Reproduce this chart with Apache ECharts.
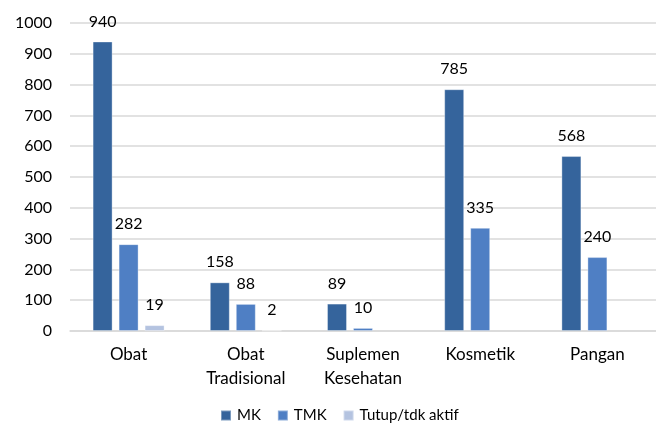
<!DOCTYPE html>
<html>
<head>
<meta charset="utf-8">
<script src="https://cdn.jsdelivr.net/npm/echarts@6/dist/echarts.min.js"></script>
<style>
  html, body { margin: 0; padding: 0; background: #fff; }
  #chart { width: 656px; height: 425px; }
</style>
</head>
<body>
<div id="chart"></div>
<script>
// data
const categories = ['Obat', 'Obat\nTradisional', 'Suplemen\nKesehatan', 'Kosmetik', 'Pangan']
const mk = [940, 158, 89, 785, 568]
const tmk = [282, 88, 10, 335, 240]
const tutup = [19, 2, null, null, null] // no bar drawn for the last three
const yTicks = { min: 0, max: 1000, interval: 100 }

const chart = echarts.init(document.getElementById('chart'))
const font = 'Lato, "Open Sans", sans-serif'

function barSeries(name, data, color) {
  return {
    name: name,
    type: 'bar',
    data: data,
    barWidth: 20,
    barGap: '30%',
    itemStyle: {
      color: color,
      borderColor: 'rgba(255,255,255,0.35)',
      borderWidth: 1
    },
    label: {
      show: true,
      position: 'top',
      distance: 12,
      color: '#000',
      fontSize: 16,
      fontFamily: font
    }
  }
}

const option = {
  animation: false,
  textStyle: { fontFamily: font },
  grid: { left: 70, top: 23, width: 598, height: 308 },
  legend: {
    top: 408,
    left: 215,
    padding: [0, 5],
    itemWidth: 10,
    itemHeight: 10,
    itemGap: 16,
    icon: 'rect',
    textStyle: { fontSize: 15, color: '#000', fontFamily: font, padding: [0, 0, 0, 1] },
    data: ['MK', 'TMK', 'Tutup/tdk aktif']
  },
  xAxis: {
    type: 'category',
    data: categories,
    axisTick: { show: false },
    axisLine: { lineStyle: { color: '#d9d9d9', width: 1.5 } },
    axisLabel: {
      color: '#000',
      fontSize: 17,
      fontFamily: font,
      margin: 12,
      lineHeight: 24,
      interval: 0
    }
  },
  yAxis: {
    type: 'value',
    min: yTicks.min,
    max: yTicks.max,
    interval: yTicks.interval,
    axisLine: { show: false },
    axisTick: { show: false },
    splitLine: { lineStyle: { color: '#d9d9d9', width: 1.5 } },
    axisLabel: {
      color: '#000',
      fontSize: 16,
      fontFamily: font,
      margin: 18,
      formatter: function (v) { return String(v) }
    }
  },
  series: [
    barSeries('MK', mk, '#35649c'),
    barSeries('TMK', tmk, '#4f7fc4'),
    barSeries('Tutup/tdk aktif', tutup, '#b4c3e0')
  ]
}

chart.setOption(option)
</script>
</body>
</html>
